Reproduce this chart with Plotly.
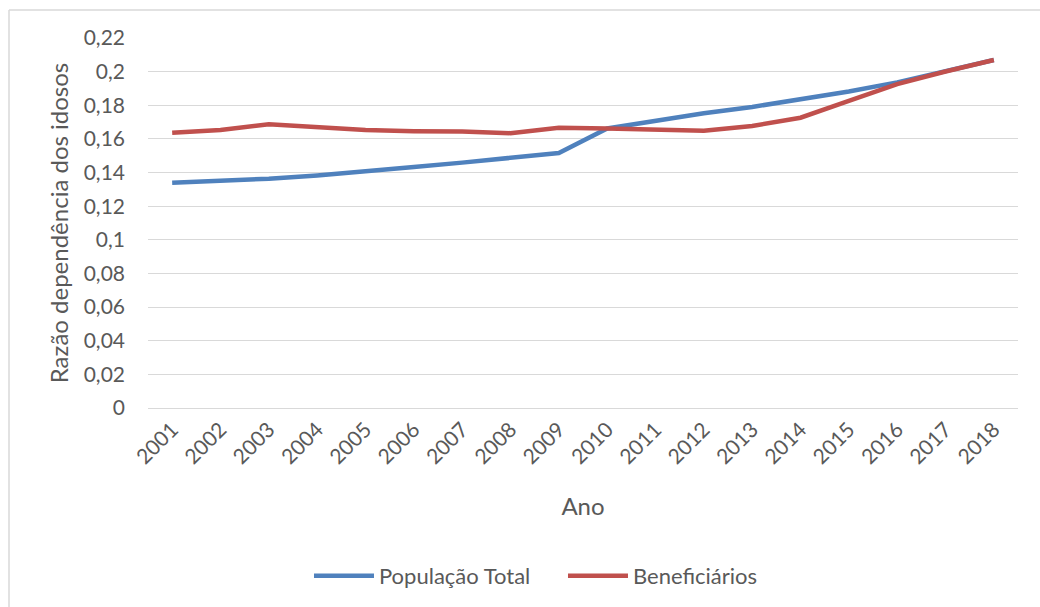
import plotly.graph_objects as go

anos = [str(a) for a in range(2001, 2019)]
populacao_total = [0.1340, 0.1350, 0.1363, 0.1383, 0.1405, 0.1433, 0.1459, 0.1489, 0.1516,
                   0.1662, 0.1709, 0.1753, 0.1790, 0.1836, 0.1882, 0.1936, 0.2001, 0.2069]
beneficiarios = [0.1636, 0.1653, 0.1687, 0.1673, 0.1653, 0.1646, 0.1644, 0.1634, 0.1667,
                 0.1662, 0.1656, 0.1648, 0.1677, 0.1726, 0.1826, 0.1926, 0.2001, 0.2069]
y_ticks = [0, 0.02, 0.04, 0.06, 0.08, 0.1, 0.12, 0.14, 0.16, 0.18, 0.2, 0.22]
y_ticktext = ["0", "0,02", "0,04", "0,06", "0,08", "0,1", "0,12", "0,14", "0,16", "0,18", "0,2", "0,22"]

FONT = "Lato, Carlito, Calibri, sans-serif"
GRAY = "#595959"

fig = go.Figure()
fig.add_trace(go.Scatter(x=anos, y=populacao_total, mode="lines", name="População Total",
                         line=dict(color="#4F81BD", width=4.5)))
fig.add_trace(go.Scatter(x=anos, y=beneficiarios, mode="lines", name="Beneficiários",
                         line=dict(color="#C0504D", width=4.5)))

L, R, T, B = 148, 22, 38, 199
W, H = 1040, 607
pw, ph = W - L - R, H - T - B

fig.update_layout(
    width=W, height=H,
    margin=dict(l=L, r=R, t=T, b=B, autoexpand=False),
    paper_bgcolor="white", plot_bgcolor="white",
    font=dict(family=FONT, color=GRAY, size=21),
    showlegend=True,
    legend=dict(orientation="h", x=0.477, xanchor="center", y=-0.397, yanchor="top",
                font=dict(size=22, color=GRAY), itemwidth=60, entrywidth=179),
    xaxis=dict(type="category", range=[-0.5, 17.5], tickangle=-45, automargin=False,
               showgrid=False, showline=True, linecolor="#D9D9D9", linewidth=1,
               ticks="", tickfont=dict(size=21, color=GRAY),
               title=dict(text="Ano", font=dict(size=24, color=GRAY), standoff=30)),
    yaxis=dict(range=[0, 0.22], tickvals=y_ticks, ticktext=y_ticktext, automargin=False,
               showgrid=True, gridcolor="#D9D9D9", gridwidth=1, zeroline=False,
               showline=False, ticks="", ticklabelstandoff=22,
               tickfont=dict(size=21, color=GRAY),
               title=dict(text="Razão dependência dos idosos", font=dict(size=24, color=GRAY),
                          standoff=8)),
)

# Chart-area border (top and left edges visible)
x_left = (9 - L) / pw
x_right = (W - L) / pw
y_top = (H - B - 10) / ph
y_bot = (H - B - H) / ph
fig.add_shape(type="line", xref="paper", yref="paper", x0=x_left, x1=x_right, y0=y_top, y1=y_top,
              line=dict(color="#D9D9D9", width=1.5))
fig.add_shape(type="line", xref="paper", yref="paper", x0=x_left, x1=x_left, y0=y_top, y1=y_bot,
              line=dict(color="#D9D9D9", width=1.5))

fig.write_html("out.html")
